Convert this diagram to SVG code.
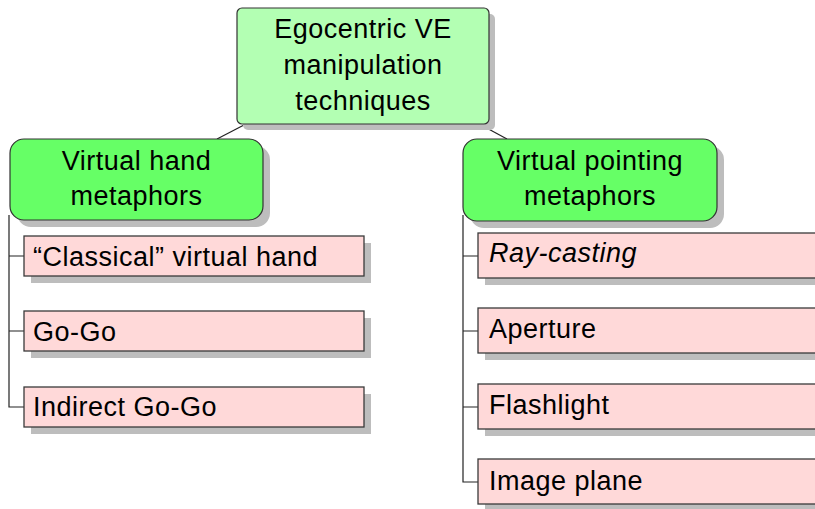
<svg xmlns="http://www.w3.org/2000/svg" width="815" height="509" viewBox="0 0 815 509">
  <style>
    text { font-family: "Liberation Sans", Arial, sans-serif; font-size: 27px; letter-spacing: 0.5px; fill: #000; }
    .mid { text-anchor: middle; }
    .shadow { fill: #bdbdbd; stroke: none; }
    .root { fill: #b3ffb3; stroke: #333; stroke-width: 1.2; }
    .group { fill: #66ff66; stroke: #333; stroke-width: 1.2; }
    .leaf { fill: #ffd9d9; stroke: #3a3a3a; stroke-width: 1.3; }
    .link { fill: none; stroke: #222; stroke-width: 1.2; }
  </style>

  <!-- connectors -->
  <g id="connectors">
    <line class="link" x1="243" y1="125.5" x2="217" y2="139"/>
    <line class="link" x1="482" y1="125.5" x2="507" y2="139"/>
    <path class="link" d="M9 215 V407 H24 M9 256 H24 M9 331 H24"/>
    <path class="link" d="M463 215 V482 H478 M463 256 H478 M463 331 H478 M463 407 H478"/>
  </g>

  <!-- root -->
  <g id="root">
    <rect class="shadow" x="243" y="14" width="252" height="116" rx="5"/>
    <rect class="root" x="237" y="8" width="252" height="116" rx="5"/>
    <text class="mid" x="363" y="37.5">Egocentric VE</text>
    <text class="mid" x="363" y="73.5">manipulation</text>
    <text class="mid" x="363" y="109.5">techniques</text>
  </g>

  <!-- virtual hand branch -->
  <g id="virtual-hand">
    <rect class="shadow" x="17" y="146" width="253" height="81" rx="14"/>
    <rect class="group" x="10" y="139" width="253" height="81" rx="14"/>
    <text class="mid" x="136.5" y="169.5">Virtual hand</text>
    <text class="mid" x="136.5" y="204.5">metaphors</text>
  </g>
  <g id="classical-virtual-hand">
    <rect class="shadow" x="31" y="243" width="340" height="40"/>
    <rect class="leaf" x="24" y="236" width="340" height="40"/>
    <text x="33" y="265.5">“Classical” virtual hand</text>
  </g>
  <g id="go-go">
    <rect class="shadow" x="31" y="318" width="340" height="40"/>
    <rect class="leaf" x="24" y="311" width="340" height="40"/>
    <text x="33" y="340.5">Go-Go</text>
  </g>
  <g id="indirect-go-go">
    <rect class="shadow" x="31" y="394" width="340" height="40"/>
    <rect class="leaf" x="24" y="387" width="340" height="40"/>
    <text x="33" y="416">Indirect Go-Go</text>
  </g>

  <!-- virtual pointing branch -->
  <g id="virtual-pointing">
    <rect class="shadow" x="470" y="146" width="254" height="82" rx="14"/>
    <rect class="group" x="463" y="139" width="254" height="82" rx="14"/>
    <text class="mid" x="590" y="169.5">Virtual pointing</text>
    <text class="mid" x="590" y="204.5">metaphors</text>
  </g>
  <g id="ray-casting">
    <rect class="shadow" x="485" y="240" width="360" height="45"/>
    <rect class="leaf" x="478" y="233" width="360" height="45"/>
    <text x="489" y="262" font-style="italic">Ray-casting</text>
  </g>
  <g id="aperture">
    <rect class="shadow" x="485" y="315" width="360" height="45"/>
    <rect class="leaf" x="478" y="308" width="360" height="45"/>
    <text x="489" y="337.5">Aperture</text>
  </g>
  <g id="flashlight">
    <rect class="shadow" x="485" y="391" width="360" height="45"/>
    <rect class="leaf" x="478" y="384" width="360" height="45"/>
    <text x="489" y="414">Flashlight</text>
  </g>
  <g id="image-plane">
    <rect class="shadow" x="485" y="466" width="360" height="45"/>
    <rect class="leaf" x="478" y="459" width="360" height="45"/>
    <text x="489" y="489.5">Image plane</text>
  </g>
</svg>
